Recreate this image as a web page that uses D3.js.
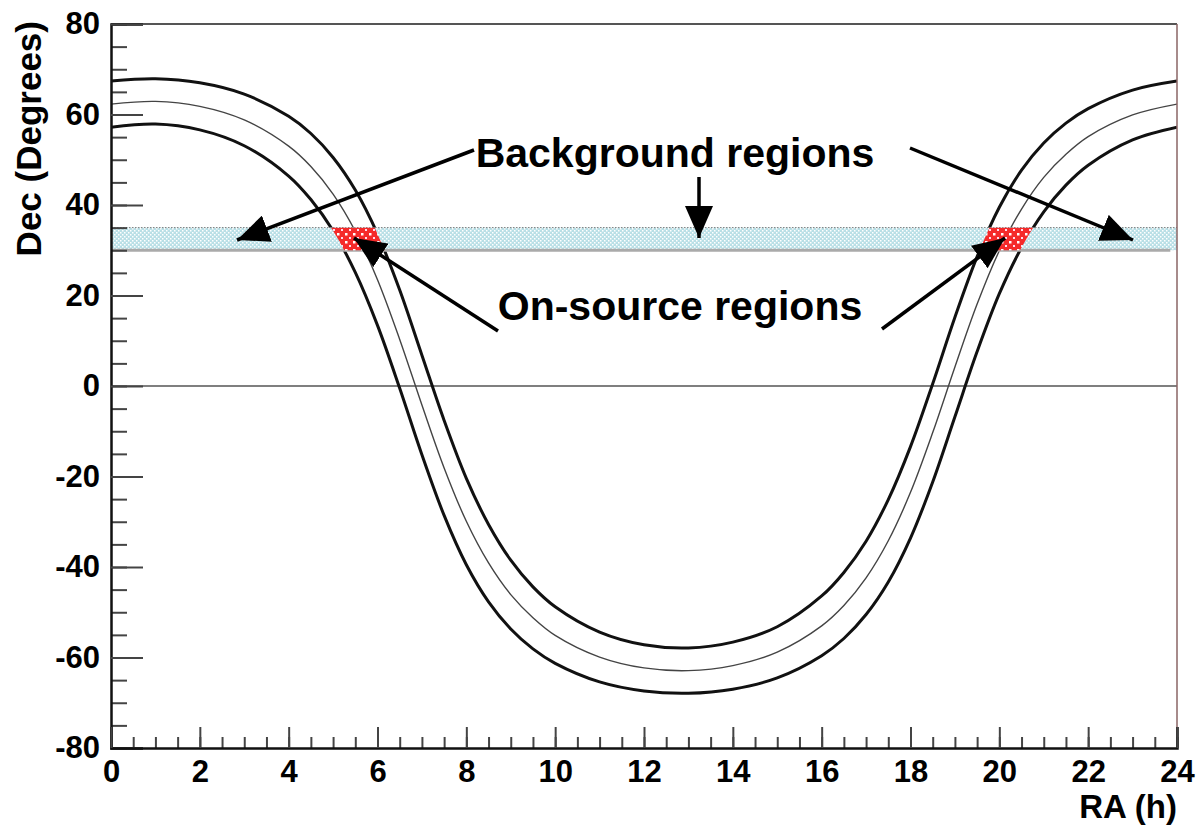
<!DOCTYPE html>
<html>
<head>
<meta charset="utf-8">
<script src="https://cdn.jsdelivr.net/npm/d3@7/dist/d3.min.js"></script>
<style>
  html, body { margin: 0; padding: 0; background: #fff; }
  svg text { font-family: "Liberation Sans", Arial, sans-serif; font-weight: bold; fill: #000; }
</style>
</head>
<body>
<div id="diagram"></div>
<script>
// data
const raHours = [0, 1, 2, 3, 4, 4.5, 5, 5.5, 6, 6.5, 7, 7.5, 8, 8.5, 9, 9.5, 10, 11,
  12, 13, 14, 15, 16, 16.5, 17, 17.5, 18, 18.5, 19, 19.5, 20, 20.5, 21, 21.5, 22, 23, 24];
const decCentre = [62.3, 62.9, 61.8, 58.8, 53.0, 48.5, 42.4, 34.2, 23.5, 10.3, -4.2, -18.1, -29.9, -39.1, -46.1, -51.2, -55.1, -59.9,
  -62.3, -62.9, -61.8, -58.8, -53.0, -48.5, -42.4, -34.2, -23.5, -10.3, 4.2, 18.1, 29.9, 39.1, 46.1, 51.2, 55.1, 59.9, 62.3];
const decUpper = [67.4, 67.9, 67.0, 64.5, 59.6, 55.8, 50.5, 43.3, 33.6, 21.2, 6.8, -7.6, -20.4, -30.6, -38.5, -44.4, -48.8, -54.4,
  -57.2, -57.9, -56.6, -53.2, -46.4, -41.2, -34.3, -25.1, -13.4, 0.5, 15.2, 28.6, 39.5, 47.7, 53.7, 58.1, 61.3, 65.4, 67.4];
const decLower = [57.2, 57.9, 56.6, 53.1, 46.4, 41.2, 34.3, 25.1, 13.4, -0.5, -15.2, -28.6, -39.5, -47.7, -53.7, -58.1, -61.3, -65.4,
  -67.4, -67.9, -67.0, -64.5, -59.6, -55.8, -50.5, -43.3, -33.6, -21.2, -6.8, 7.6, 20.4, 30.6, 38.5, 44.4, 48.8, 54.4, 57.2];
const band = [30, 35];
const xTicks = [0, 2, 4, 6, 8, 10, 12, 14, 16, 18, 20, 22, 24];
const yTicks = [-80, -60, -40, -20, 0, 20, 40, 60, 80];
const notes = [
  { text: 'Background regions', x: 675, y: 167 },
  { text: 'On-source regions', x: 680, y: 320 }
];
const arrows = [
  [[474, 150], [237, 240]],
  [[699, 177], [699, 238]],
  [[910, 148], [1133, 240]],
  [[498, 331], [354, 238]],
  [[882, 329], [1005, 238]]
];

!(function () {
  'use strict';
  // - - - - - - - - - -
  let
    svg = undefined,
    xScale = undefined,
    yScale = undefined,
    defs = undefined,
    pts = undefined,
    canvas = {
      width: 1201,
      height: 829,
      left: 111,
      right: 1177,
      top: 24,
      bottom: 748
    };

  svg = d3.select('#diagram')
    .append('svg')
    .attr('width', canvas.width)
    .attr('height', canvas.height);

  xScale = d3.scaleLinear().domain([0, 24]).range([canvas.left, canvas.right]);
  yScale = d3.scaleLinear().domain([-80, 80]).range([canvas.bottom, canvas.top]);

  pts = raHours.map(function (h, i) {
    return { ra: h, mid: decCentre[i], up: decUpper[i], low: decLower[i] };
  });

  // patterns
  defs = svg.append('defs');
  let pb = defs.append('pattern').attr('id', 'bluedots')
    .attr('patternUnits', 'userSpaceOnUse').attr('width', 4).attr('height', 4);
  pb.append('rect').attr('width', 4).attr('height', 4).attr('fill', '#b9dfe6');
  pb.append('rect').attr('x', 0).attr('y', 0).attr('width', 1.5).attr('height', 1.5).attr('fill', '#fff');
  pb.append('rect').attr('x', 2).attr('y', 2).attr('width', 1.5).attr('height', 1.5).attr('fill', '#fff');

  let pr = defs.append('pattern').attr('id', 'reddots')
    .attr('patternUnits', 'userSpaceOnUse').attr('width', 8).attr('height', 8);
  pr.append('rect').attr('width', 8).attr('height', 8).attr('fill', '#f52a2a');
  pr.append('rect').attr('x', 1).attr('y', 1).attr('width', 2.5).attr('height', 2.5).attr('fill', '#fff');
  pr.append('rect').attr('x', 5).attr('y', 5).attr('width', 2).attr('height', 2).attr('fill', '#fde');

  defs.append('clipPath').attr('id', 'plotclip')
    .append('rect')
    .attr('x', canvas.left).attr('y', canvas.top)
    .attr('width', canvas.right - canvas.left).attr('height', canvas.bottom - canvas.top);

  defs.append('clipPath').attr('id', 'bandclip')
    .append('rect')
    .attr('x', xScale(0)).attr('y', yScale(band[1]))
    .attr('width', xScale(24) - xScale(0)).attr('height', yScale(band[0]) - yScale(band[1]));

  defs.append('marker').attr('id', 'head')
    .attr('markerUnits', 'userSpaceOnUse')
    .attr('viewBox', '0 0 32 28')
    .attr('markerWidth', 32).attr('markerHeight', 28)
    .attr('refX', 32).attr('refY', 14)
    .attr('orient', 'auto')
    .append('path').attr('d', 'M0,0 L32,14 L0,28 Z').attr('fill', '#000');

  let plot = svg.append('g').attr('clip-path', 'url(#plotclip)');

  // zero line
  plot.append('line')
    .attr('x1', xScale(0)).attr('x2', xScale(24))
    .attr('y1', yScale(0)).attr('y2', yScale(0))
    .attr('stroke', '#555').attr('stroke-width', 1.5);

  // curves
  let curve = d3.curveCatmullRom.alpha(0.5);
  let line = function (key) {
    return d3.line().curve(curve)
      .x(function (d) { return xScale(d.ra); })
      .y(function (d) { return yScale(d[key]); });
  };
  plot.append('path').datum(pts).attr('d', line('up'))
    .attr('fill', 'none').attr('stroke', '#111').attr('stroke-width', 3);
  plot.append('path').datum(pts).attr('d', line('low'))
    .attr('fill', 'none').attr('stroke', '#111').attr('stroke-width', 3);
  plot.append('path').datum(pts).attr('d', line('mid'))
    .attr('fill', 'none').attr('stroke', '#444').attr('stroke-width', 1.4);

  // background band
  plot.append('rect')
    .attr('x', xScale(0)).attr('y', yScale(band[1]))
    .attr('width', xScale(24) - xScale(0)).attr('height', yScale(band[0]) - yScale(band[1]))
    .attr('fill', 'url(#bluedots)');
  plot.append('line')
    .attr('x1', xScale(0)).attr('x2', xScale(24))
    .attr('y1', yScale(band[1])).attr('y2', yScale(band[1]))
    .attr('stroke', '#777').attr('stroke-width', 1).attr('stroke-dasharray', '1.5,1.5');
  plot.append('line')
    .attr('x1', xScale(0)).attr('x2', xScale(23.85))
    .attr('y1', yScale(band[0])).attr('y2', yScale(band[0]))
    .attr('stroke', '#aaa').attr('stroke-width', 3);

  // on-source regions: between the outer curves, inside the band
  plot.append('path').datum(pts)
    .attr('clip-path', 'url(#bandclip)')
    .attr('d', d3.area().curve(curve)
      .x(function (d) { return xScale(d.ra); })
      .y0(function (d) { return yScale(d.low); })
      .y1(function (d) { return yScale(d.up); }))
    .attr('fill', 'url(#reddots)');

  // frame
  svg.append('line').attr('x1', canvas.left).attr('x2', canvas.right)
    .attr('y1', canvas.top).attr('y2', canvas.top)
    .attr('stroke', '#555').attr('stroke-width', 2);
  svg.append('line').attr('x1', canvas.right).attr('x2', canvas.right)
    .attr('y1', canvas.top).attr('y2', canvas.bottom)
    .attr('stroke', '#8a6565').attr('stroke-width', 1.5);

  // axes
  let yMinor = d3.range(-80, 81, 5);
  let xMinor = d3.range(0, 24.01, 0.5);
  let plain = function (d) { return String(d); };

  svg.append('g')
    .attr('transform', 'translate(' + canvas.left + ', 0)')
    .call(d3.axisLeft(yScale).tickValues(yMinor).tickSize(-16).tickFormat(''))
    .call(function (g) { g.selectAll('line').attr('stroke', '#444').attr('stroke-width', 2); g.select('.domain').remove(); });
  svg.append('g')
    .attr('transform', 'translate(' + canvas.left + ', 0)')
    .call(d3.axisLeft(yScale).tickValues(yTicks).tickSize(-32).tickPadding(11).tickFormat(plain))
    .call(function (g) {
      g.select('.domain').attr('stroke', '#111').attr('stroke-width', 2.5);
      g.selectAll('line').attr('stroke', '#444').attr('stroke-width', 2);
      g.selectAll('text').attr('font-size', 31).style('font-family', '"Liberation Sans", Arial, sans-serif');
    });

  svg.append('g')
    .attr('transform', 'translate(0, ' + canvas.bottom + ')')
    .call(d3.axisBottom(xScale).tickValues(xMinor).tickSize(-11).tickFormat(''))
    .call(function (g) { g.selectAll('line').attr('stroke', '#444').attr('stroke-width', 2); g.select('.domain').remove(); });
  svg.append('g')
    .attr('transform', 'translate(0, ' + canvas.bottom + ')')
    .call(d3.axisBottom(xScale).tickValues(xTicks).tickSize(-21).tickPadding(12).tickFormat(plain))
    .call(function (g) {
      g.select('.domain').attr('stroke', '#111').attr('stroke-width', 2.5);
      g.selectAll('line').attr('stroke', '#444').attr('stroke-width', 2);
      g.selectAll('text').attr('font-size', 31).style('font-family', '"Liberation Sans", Arial, sans-serif');
    });

  // titles
  svg.append('text')
    .attr('transform', 'translate(41, 21) rotate(-90)')
    .attr('text-anchor', 'end')
    .attr('font-size', 35)
    .text('Dec (Degrees)');
  svg.append('text')
    .attr('x', canvas.right).attr('y', 818)
    .attr('text-anchor', 'end')
    .attr('font-size', 33)
    .text('RA (h)');

  // annotations
  svg.selectAll('.arrow').data(arrows).enter()
    .append('line').attr('class', 'arrow')
    .attr('x1', function (d) { return d[0][0]; })
    .attr('y1', function (d) { return d[0][1]; })
    .attr('x2', function (d) { return d[1][0]; })
    .attr('y2', function (d) { return d[1][1]; })
    .attr('stroke', '#000').attr('stroke-width', 3.5)
    .attr('marker-end', 'url(#head)');

  svg.selectAll('.note').data(notes).enter()
    .append('text').attr('class', 'note')
    .attr('x', function (d) { return d.x; })
    .attr('y', function (d) { return d.y; })
    .attr('text-anchor', 'middle')
    .attr('font-size', 41)
    .text(function (d) { return d.text; });
  // - - - - - - - - - -
}());
</script>
</body>
</html>
